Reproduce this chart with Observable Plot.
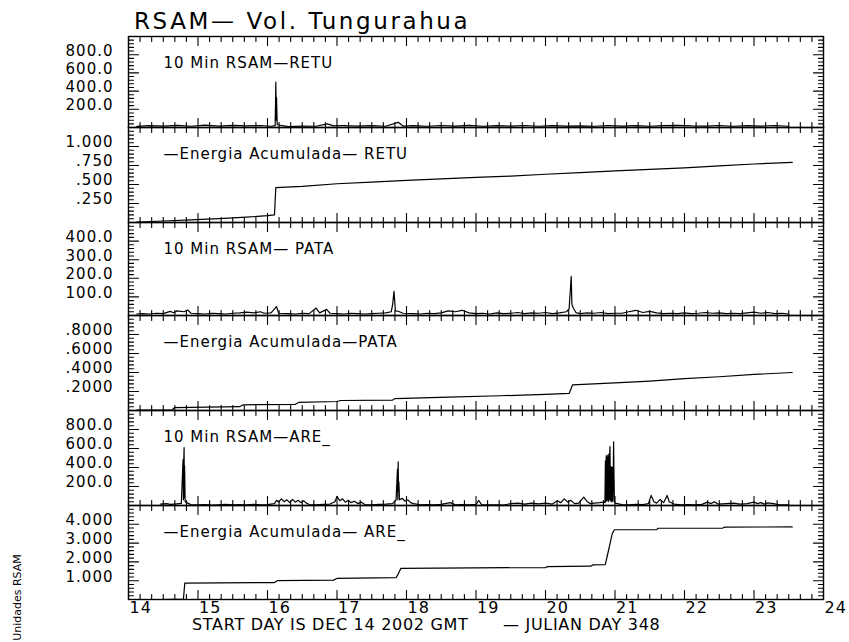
<!DOCTYPE html>
<html><head><meta charset="utf-8">
<script src="https://cdn.jsdelivr.net/npm/d3@7"></script>
<script src="https://cdn.jsdelivr.net/npm/@observablehq/plot@0.6"></script>
<style>
body{margin:0;background:#fff;}
#wrap{position:relative;width:849px;height:642px;overflow:hidden;font-family:"DejaVu Sans",sans-serif;color:#000;}
.t{position:absolute;white-space:nowrap;line-height:1;}
</style></head><body><div id="wrap">
<div class="t" id="title" style="left:134px;top:10px;font-size:23px;letter-spacing:2.6px;">RSAM— Vol. Tungurahua</div>
<div class="t" style="left:192px;top:617px;font-size:16px;letter-spacing:0.7px;">START DAY IS DEC 14 2002 GMT</div>
<div class="t" style="left:503px;top:617px;font-size:16px;letter-spacing:0.7px;">— JULIAN DAY 348</div>
<div class="t" style="left:-43px;top:592px;width:120px;font-size:11px;transform:rotate(-90deg);transform-origin:50% 50%;text-align:center;">Unidades RSAM</div>
</div>
<script>
const dayTicks = [14,15,16,17,18,19,20,21,22,23,24];
const xMinor = d3.range(0, 60).filter(i => i % 6 !== 0).map(i => 14 + i / 6);

const retuRsam = [[14.12,12],[14.3,20],[14.5,15],[14.7,24],[14.9,14],[15.1,26],[15.3,16],[15.5,24],[15.7,18],[15.9,22],[16.05,14],[16.11,20],[16.12,498],[16.125,80],[16.13,330],[16.14,30],[16.3,10],[16.5,16],[16.7,14],[16.86,40],[16.95,18],[17.1,22],[17.3,16],[17.5,20],[17.7,14],[17.88,57],[17.95,16],[18.1,20],[18.3,14],[18.5,22],[18.7,16],[18.9,24],[19.1,14],[19.3,20],[19.5,16],[19.7,22],[19.9,14],[20.1,20],[20.3,16],[20.5,18],[20.7,14],[20.9,22],[21.1,16],[21.3,20],[21.5,14],[21.7,20],[21.9,24],[22.1,18],[22.3,16],[22.5,22],[22.7,14],[22.9,20],[23.1,16],[23.3,22],[23.5,14]];

const retuEnergy = [[14.12,0.005],[14.5,0.02],[14.9,0.035],[15.3,0.05],[15.7,0.07],[16.0,0.09],[16.1,0.1],[16.12,0.46],[16.5,0.475],[17.0,0.51],[17.5,0.53],[18.0,0.555],[18.5,0.575],[19.0,0.595],[19.5,0.61],[20.0,0.635],[20.5,0.655],[21.0,0.68],[21.5,0.70],[22.0,0.72],[22.5,0.745],[23.0,0.77],[23.55,0.79]];

const pataRsam = [[14.12,8],[14.2,10],[14.3,8],[14.4,12],[14.5,10],[14.6,22],[14.65,15],[14.7,25],[14.8,20],[14.85,30],[14.9,12],[15.0,10],[15.1,8],[15.2,12],[15.3,10],[15.4,8],[15.5,12],[15.6,14],[15.7,18],[15.8,14],[15.9,20],[15.95,12],[16.05,14],[16.13,48],[16.16,12],[16.3,10],[16.4,8],[16.5,12],[16.6,10],[16.7,40],[16.75,14],[16.85,33],[16.9,12],[17.0,10],[17.1,8],[17.2,12],[17.3,10],[17.4,8],[17.5,10],[17.6,12],[17.7,14],[17.78,20],[17.8,58],[17.82,130],[17.84,25],[17.88,23],[17.95,12],[18.1,10],[18.2,8],[18.3,12],[18.4,10],[18.5,14],[18.6,25],[18.7,20],[18.8,28],[18.9,14],[19.0,10],[19.1,12],[19.2,8],[19.3,14],[19.4,10],[19.5,12],[19.6,16],[19.7,10],[19.8,14],[19.9,12],[20.0,16],[20.1,10],[20.2,14],[20.3,20],[20.34,35],[20.37,210],[20.38,60],[20.4,40],[20.44,15],[20.5,10],[20.6,14],[20.7,12],[20.8,16],[20.9,10],[21.0,12],[21.1,12],[21.2,20],[21.3,28],[21.4,16],[21.5,22],[21.6,14],[21.7,10],[21.8,12],[21.9,10],[22.0,14],[22.1,10],[22.2,12],[22.3,16],[22.4,12],[22.5,14],[22.6,10],[22.7,12],[22.8,10],[22.9,14],[23.0,18],[23.1,12],[23.2,16],[23.3,10],[23.4,12],[23.5,8]];

const pataEnergy = [[14.12,0.003],[14.62,0.003],[14.66,0.03],[15.6,0.04],[15.65,0.06],[16.4,0.065],[16.45,0.085],[17.0,0.095],[17.05,0.105],[17.8,0.11],[17.83,0.125],[18.6,0.14],[19.35,0.155],[20.0,0.17],[20.34,0.18],[20.39,0.27],[21.0,0.29],[21.5,0.31],[22.0,0.335],[22.5,0.355],[23.0,0.38],[23.55,0.40]];

const areRsam = [[14.46,15],[14.55,20],[14.6,12],[14.7,18],[14.76,22],[14.785,480],[14.79,60],[14.795,460],[14.8,610],[14.803,80],[14.806,420],[14.81,300],[14.815,40],[14.84,30],[14.9,8],[15.0,6],[15.1,10],[15.2,5],[15.3,8],[15.4,12],[15.5,6],[15.6,10],[15.7,8],[15.8,12],[15.9,6],[16.0,10],[16.1,20],[16.13,55],[16.16,35],[16.2,70],[16.24,40],[16.28,60],[16.32,30],[16.36,65],[16.4,35],[16.44,55],[16.48,30],[16.52,50],[16.56,25],[16.6,10],[16.7,8],[16.8,12],[16.9,15],[16.97,40],[17.0,96],[17.04,50],[17.08,70],[17.12,35],[17.16,55],[17.2,30],[17.25,45],[17.3,20],[17.35,35],[17.4,10],[17.5,8],[17.6,12],[17.7,15],[17.8,20],[17.85,60],[17.87,380],[17.875,60],[17.88,460],[17.885,150],[17.89,250],[17.9,60],[17.94,75],[17.98,45],[18.02,60],[18.06,30],[18.1,20],[18.2,8],[18.3,10],[18.4,6],[18.5,12],[18.63,30],[18.7,8],[18.8,10],[18.9,6],[19.0,12],[19.04,53],[19.08,10],[19.2,6],[19.3,8],[19.4,5],[19.5,20],[19.6,25],[19.7,15],[19.8,25],[19.9,18],[20.0,25],[20.1,15],[20.17,50],[20.22,30],[20.27,70],[20.32,35],[20.36,55],[20.42,20],[20.48,25],[20.55,89],[20.6,40],[20.65,20],[20.7,25],[20.78,30],[20.84,35],[20.855,30],[20.862,470],[20.868,40],[20.874,520],[20.88,50],[20.886,530],[20.892,60],[20.898,510],[20.904,40],[20.91,540],[20.916,60],[20.922,500],[20.928,620],[20.934,50],[20.94,410],[20.946,40],[20.952,405],[20.958,50],[20.964,400],[20.97,40],[20.976,410],[20.98,670],[20.986,300],[20.992,60],[21.0,25],[21.1,10],[21.2,8],[21.3,12],[21.4,10],[21.48,20],[21.52,106],[21.56,40],[21.6,25],[21.65,64],[21.7,30],[21.75,106],[21.78,40],[21.85,15],[21.95,8],[22.05,10],[22.15,6],[22.25,12],[22.33,35],[22.38,20],[22.43,40],[22.48,15],[22.6,20],[22.7,25],[22.8,15],[22.9,20],[23.0,35],[23.05,20],[23.1,30],[23.15,15],[23.2,28],[23.28,20],[23.35,10],[23.5,8]];

const areEnergy = [[14.46,0],[14.79,0.02],[14.81,0.87],[16.1,0.9],[16.14,1.0],[16.95,1.03],[17.0,1.12],[17.85,1.16],[17.87,1.28],[17.92,1.66],[20.0,1.7],[20.03,1.75],[20.65,1.77],[20.68,1.84],[20.86,1.86],[20.9,2.5],[20.93,3.0],[20.96,3.5],[20.99,3.71],[21.6,3.72],[21.62,3.79],[22.55,3.8],[22.58,3.85],[23.55,3.86]];

const noLead = s => s.replace(/^0\./, ".");
const panels = [
  {top:36, bottom:127, domain:[0,1000], major:[200,400,600,800], minorStep:40, fmt:d=>d.toFixed(1), label:"10 Min RSAM—RETU", data:retuRsam},
  {top:127, bottom:222, domain:[0,1.25], major:[0.25,0.5,0.75,1.0], minorStep:0.05, fmt:d=>noLead(d.toFixed(3)), label:"—Energia Acumulada— RETU", data:retuEnergy},
  {top:222, bottom:315, domain:[0,500], major:[100,200,300,400], minorStep:20, fmt:d=>d.toFixed(1), label:"10 Min RSAM— PATA", data:pataRsam},
  {top:315, bottom:410, domain:[0,1.0], major:[0.2,0.4,0.6,0.8], minorStep:0.04, fmt:d=>noLead(d.toFixed(4)), label:"—Energia Acumulada—PATA", data:pataEnergy},
  {top:410, bottom:505, domain:[0,1000], major:[200,400,600,800], minorStep:40, fmt:d=>d.toFixed(1), label:"10 Min RSAM—ARE_", data:areRsam},
  {top:505, bottom:599, domain:[0,5], major:[1,2,3,4], minorStep:0.2, fmt:d=>d.toFixed(3), label:"—Energia Acumulada— ARE_", data:areEnergy}
];

const wrap = document.getElementById("wrap");
const shape = {draw(ctx, l) { ctx.moveTo(0, 0); ctx.lineTo(0, -l); }};

panels.forEach((p, i) => {
  const last = i === panels.length - 1;
  const mT = 14, mB = last ? 40 : 14;
  const h = p.bottom - p.top;
  const n = Math.round(p.domain[1] / p.minorStep);
  const yMinor = d3.range(1, n).map(k => k * p.minorStep)
    .filter(v => !p.major.some(m => Math.abs(m - v) < 1e-9));
  const common = {shape, stroke: "black", strokeWidth: 1.1, anchor: "start"};
  const marks = [
    Plot.vector(dayTicks, {x: d => d, frameAnchor: "top", rotate: 180, length: 9, ...common}),
    Plot.vector(xMinor, {x: d => d, frameAnchor: "top", rotate: 180, length: 5, ...common}),
    Plot.vector(dayTicks, {x: d => d, frameAnchor: "bottom", rotate: 0, length: 9, ...common}),
    Plot.vector(xMinor, {x: d => d, frameAnchor: "bottom", rotate: 0, length: 5, ...common}),
    Plot.vector(p.major, {y: d => d, frameAnchor: "left", rotate: 90, length: 10, ...common}),
    Plot.vector(yMinor, {y: d => d, frameAnchor: "left", rotate: 90, length: 5, ...common}),
    Plot.vector(p.major, {y: d => d, frameAnchor: "right", rotate: -90, length: 10, ...common}),
    Plot.vector(yMinor, {y: d => d, frameAnchor: "right", rotate: -90, length: 5, ...common}),
    Plot.frame({stroke: "black", strokeWidth: 1.4}),
    Plot.text(p.major, {y: d => d, text: p.fmt, frameAnchor: "left", textAnchor: "end", dx: -15, dy: -4, fontSize: 15}),
    Plot.text([p.label], {frameAnchor: "top-left", text: d => d, textAnchor: "start", dx: 35, dy: 21, fontSize: 15}),
    Plot.line(p.data, {x: d => d[0], y: d => d[1], stroke: "black", strokeWidth: 1.2})
  ];
  if (last) marks.push(Plot.text(dayTicks, {x: d => d, text: d => String(d), frameAnchor: "bottom", textAnchor: "start", dx: 1, dy: 13, fontSize: 16}));
  const svg = Plot.plot({
    width: 849, height: h + mT + mB,
    marginTop: mT, marginBottom: mB, marginLeft: 128, marginRight: 26,
    x: {domain: [14, 24], axis: null},
    y: {domain: p.domain, axis: null},
    style: {fontFamily: "DejaVu Sans", fontSize: "15px", letterSpacing: "1px", background: "transparent", color: "black", overflow: "visible"},
    marks
  });
  svg.style.position = "absolute";
  svg.style.left = "0px";
  svg.style.top = (p.top - mT) + "px";
  wrap.appendChild(svg);
});
</script></body></html>
